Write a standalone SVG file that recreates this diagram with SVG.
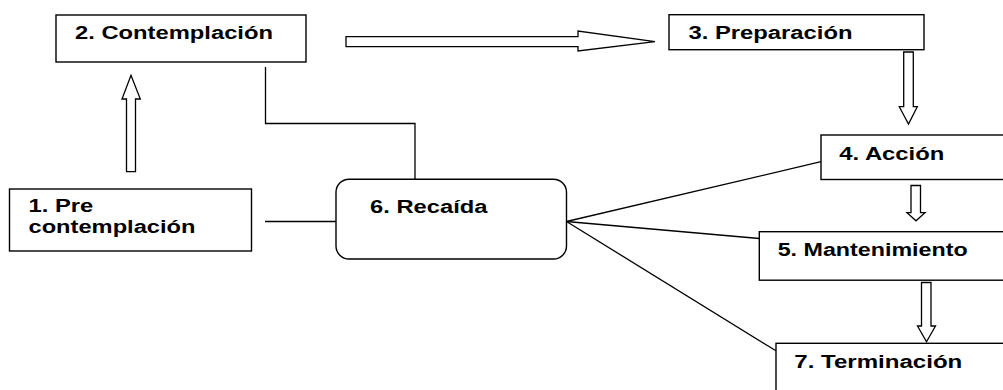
<svg xmlns="http://www.w3.org/2000/svg" width="1003" height="390" viewBox="0 0 1003 390">
<style>
.box{fill:#fff;stroke:#000;stroke-width:1.4}
.ln{fill:none;stroke:#000;stroke-width:1.3}
.arr{fill:#fff;stroke:#000;stroke-width:1.3;stroke-linejoin:miter}
.t{font-family:"Liberation Sans",Arial,sans-serif;font-weight:bold;font-size:18px;fill:#000}
</style>
<rect width="1003" height="390" fill="#fff"/>
<g id="connectors">
<polyline class="ln" points="265.5,67 265.5,123.5 415,123.5 415,179"/>
<line class="ln" x1="265" y1="221.5" x2="336" y2="221.5"/>
<line class="ln" x1="566.5" y1="221.5" x2="821" y2="161.7"/>
<line class="ln" x1="566.5" y1="221.5" x2="759.3" y2="238.5"/>
<line class="ln" x1="566.5" y1="221.5" x2="776" y2="350.8"/>
<path class="arr" d="M126.5,171.7 L126.5,99 L122,99 L131,75.3 L140.3,99 L135.5,99 L135.5,171.7 Z"/>
<path class="arr" d="M346,36.7 L578,36.7 L578,31 L655,41.7 L578,51 L578,46.7 L346,46.7 Z"/>
<path class="arr" d="M903.7,52 L913.3,52 L913.3,106.7 L917.3,106.7 L908.5,124 L899.3,106.7 L903.7,106.7 Z"/>
<path class="arr" d="M911,185.5 L920.5,185.5 L920.5,212.7 L925,212.7 L916,220.8 L907,212.7 L911,212.7 Z"/>
<path class="arr" d="M921.5,282.5 L931,282.5 L931,326 L935.5,326 L926.5,341.7 L917.5,326 L921.5,326 Z"/>
</g>
<g id="node1">
<rect class="box" x="9.5" y="189" width="242" height="62"/>
<text class="t" x="28.5" y="212" textLength="64.7" lengthAdjust="spacingAndGlyphs">1. Pre</text>
<text class="t" x="28.5" y="233" textLength="167" lengthAdjust="spacingAndGlyphs">contemplación</text>
</g>
<g id="node2">
<rect class="box" x="56" y="15" width="250" height="47"/>
<text class="t" x="75" y="39" textLength="198" lengthAdjust="spacingAndGlyphs">2. Contemplación</text>
</g>
<g id="node3">
<rect class="box" x="669" y="14.7" width="255" height="35"/>
<text class="t" x="688.5" y="38.5" textLength="164" lengthAdjust="spacingAndGlyphs">3. Preparación</text>
</g>
<g id="node4">
<rect class="box" x="821" y="135" width="200" height="44.5"/>
<text class="t" x="839.3" y="159.5" textLength="105" lengthAdjust="spacingAndGlyphs">4. Acción</text>
</g>
<g id="node5">
<rect class="box" x="759.3" y="231.7" width="260" height="48.5"/>
<text class="t" x="777.7" y="255.7" textLength="190" lengthAdjust="spacingAndGlyphs">5. Mantenimiento</text>
</g>
<g id="node6">
<rect class="box" x="336" y="179.3" width="230.5" height="79.7" rx="13" ry="13"/>
<text class="t" x="370" y="212.7" textLength="117.5" lengthAdjust="spacingAndGlyphs">6. Recaída</text>
</g>
<g id="node7">
<rect class="box" x="776" y="343.3" width="250" height="70"/>
<text class="t" x="794.3" y="367.7" textLength="168" lengthAdjust="spacingAndGlyphs">7. Terminación</text>
</g>
</svg>
